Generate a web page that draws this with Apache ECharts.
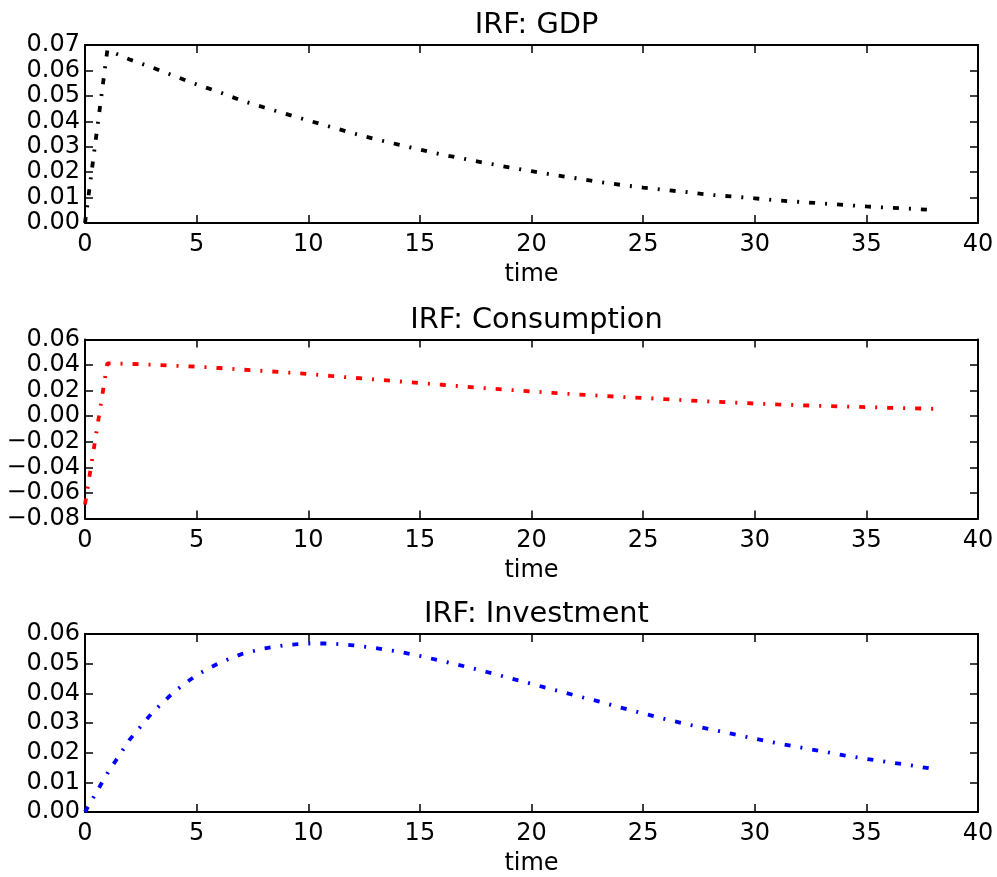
<!DOCTYPE html>
<html>
<head>
<meta charset="utf-8">
<script src="https://cdn.jsdelivr.net/npm/echarts@6.0.0/dist/echarts.min.js"></script>
<style>
  html, body { margin: 0; padding: 0; background: #fff; }
  #chart { width: 997px; height: 877px; }
</style>
</head>
<body>
<div id="chart"></div>
<script>
// Impulse responses, periods 0..38
const time = [0, 1, 2, 3, 4, 5, 6, 7, 8, 9, 10, 11, 12, 13, 14, 15, 16, 17, 18, 19,
              20, 21, 22, 23, 24, 25, 26, 27, 28, 29, 30, 31, 32, 33, 34, 35, 36, 37, 38];

const gdp = [0.0000, 0.0680, 0.0643, 0.0612, 0.0578, 0.0545, 0.0515, 0.0482, 0.0455, 0.0429,
             0.0403, 0.0378, 0.0353, 0.0330, 0.0309, 0.0289, 0.0269, 0.0252, 0.0235, 0.0219,
             0.0204, 0.0189, 0.0176, 0.0162, 0.0150, 0.0139, 0.0130, 0.0121, 0.0111, 0.0104,
             0.0097, 0.0089, 0.0083, 0.0077, 0.0071, 0.0065, 0.0060, 0.0056, 0.0051];

const consumption = [-0.0690, 0.0413, 0.0409, 0.0403, 0.0395, 0.0388, 0.0377, 0.0365, 0.0354, 0.0343,
                     0.0330, 0.0315, 0.0301, 0.0287, 0.0273, 0.0259, 0.0246, 0.0232, 0.0218, 0.0206,
                     0.0194, 0.0182, 0.0171, 0.0161, 0.0151, 0.0143, 0.0133, 0.0124, 0.0115, 0.0107,
                     0.0099, 0.0092, 0.0086, 0.0081, 0.0076, 0.0071, 0.0066, 0.0062, 0.0058];

const investment = [0.0000, 0.0130, 0.0244, 0.0334, 0.0406, 0.0462, 0.0502, 0.0532, 0.0551, 0.0563,
                    0.0568, 0.0568, 0.0562, 0.0553, 0.0541, 0.0526, 0.0509, 0.0491, 0.0472, 0.0452,
                    0.0432, 0.0412, 0.0392, 0.0373, 0.0352, 0.0332, 0.0313, 0.0295, 0.0279, 0.0263,
                    0.0247, 0.0232, 0.0218, 0.0205, 0.0191, 0.0179, 0.0168, 0.0157, 0.0145];

const titles = ['IRF: GDP', 'IRF: Consumption', 'IRF: Investment'];
const xLabel = 'time';
const xRange = [0, 40, 5];
const yRanges = [[0, 0.07, 0.01], [-0.08, 0.06, 0.02], [0, 0.06, 0.01]];
const colors = ['#000000', '#ff0000', '#0000ff'];
const seriesValues = [gdp, consumption, investment];

const FONT = 'DejaVu Sans';
const GRID_LEFT = 85, GRID_WIDTH = 893;
const panels = [
  { top: 45, height: 178, titleTop: 6 },
  { top: 339.5, height: 179, titleTop: 301 },
  { top: 634, height: 179, titleTop: 595 }
];

const fmtY = v => {
  const s = Math.abs(v).toFixed(2);
  return v < -1e-9 ? '\u2212' + s : s;
};

const tickStyle = { show: true, inside: true, length: 8, lineStyle: { color: '#000', width: 1.5 } };
const lineStyle = { show: true, onZero: false, lineStyle: { color: '#000', width: 2 } };

const option = {
  animation: false,
  backgroundColor: '#fff',
  title: [], grid: [], xAxis: [], yAxis: [], series: []
};

panels.forEach((p, i) => {
  // each title is centred over its own plotting area
  option.title.push({
    text: titles[i], left: GRID_LEFT + GRID_WIDTH / 2, textAlign: 'center', top: p.titleTop,
    textStyle: { fontFamily: FONT, fontSize: 28.8, fontWeight: 'normal', color: '#000' }
  });
  option.grid.push({ left: GRID_LEFT, width: GRID_WIDTH, top: p.top, height: p.height });
  // bottom and top x axes
  option.xAxis.push({
    type: 'value', gridIndex: i, position: 'bottom',
    min: xRange[0], max: xRange[1], interval: xRange[2],
    name: xLabel, nameLocation: 'middle', nameGap: 40,
    nameTextStyle: { fontFamily: FONT, fontSize: 24, color: '#000' },
    axisLine: lineStyle, axisTick: tickStyle, splitLine: { show: false },
    axisLabel: { fontFamily: FONT, fontSize: 24, color: '#000', margin: 10 }
  });
  option.xAxis.push({
    type: 'value', gridIndex: i, position: 'top',
    min: xRange[0], max: xRange[1], interval: xRange[2],
    axisLine: lineStyle, axisTick: tickStyle, splitLine: { show: false },
    axisLabel: { show: false }
  });
  const [ymin, ymax, ystep] = yRanges[i];
  option.yAxis.push({
    type: 'value', gridIndex: i, position: 'left',
    min: ymin, max: ymax, interval: ystep,
    axisLine: lineStyle, axisTick: tickStyle, splitLine: { show: false },
    axisLabel: { fontFamily: FONT, fontSize: 24, color: '#000', margin: 5, formatter: fmtY }
  });
  option.yAxis.push({
    type: 'value', gridIndex: i, position: 'right',
    min: ymin, max: ymax, interval: ystep,
    axisLine: lineStyle, axisTick: tickStyle, splitLine: { show: false },
    axisLabel: { show: false }
  });
  option.series.push({
    type: 'line', xAxisIndex: 2 * i, yAxisIndex: 2 * i,
    data: time.map((t, k) => [t, seriesValues[i][k]]),
    showSymbol: false, symbol: 'none',
    lineStyle: { color: colors[i], width: 3.8, type: [6, 10, 2, 10], cap: 'butt' },
    z: 1
  });
});

const chart = echarts.init(document.getElementById('chart'), null, { renderer: 'canvas' });
chart.setOption(option);
</script>
</body>
</html>
